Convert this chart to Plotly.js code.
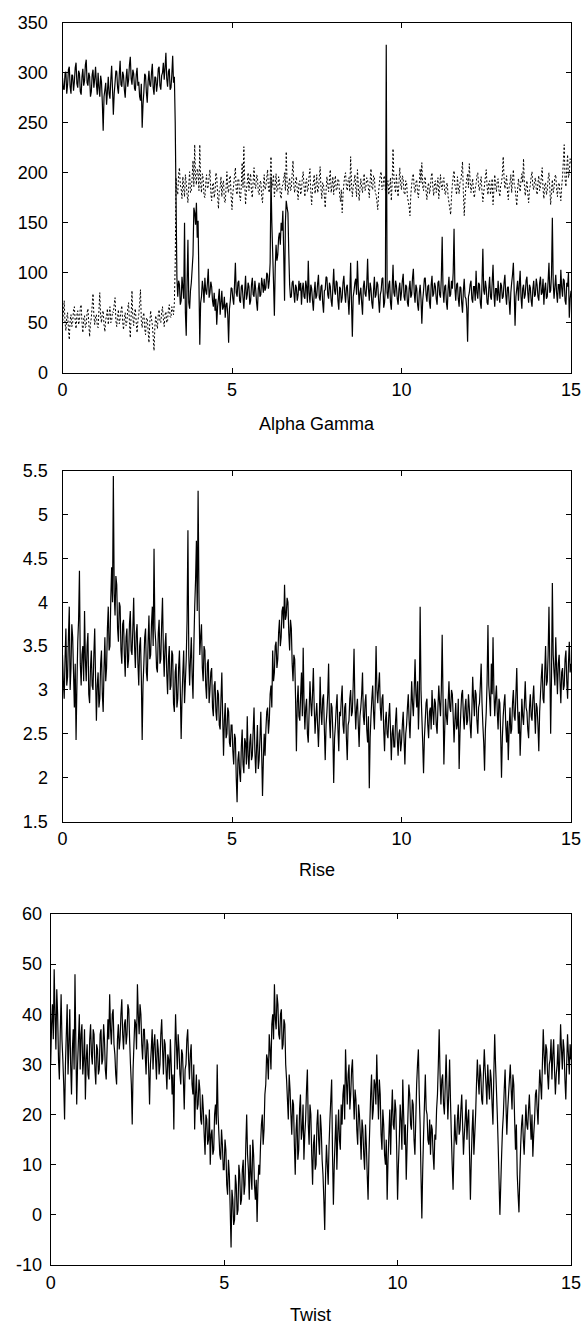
<!DOCTYPE html>
<html>
<head>
<meta charset="utf-8">
<script src="https://cdn.plot.ly/plotly-3.0.1.min.js"></script>
<style>html,body{margin:0;padding:0;background:#fff;}#chart{width:584px;height:1327px;}</style>
</head>
<body>
<div id="chart"></div>
<script>
// time step of the sampled series (x axis runs 0..15)
const tStep = 0.025;

// Panel 1 — Alpha Gamma, solid series
const alphaGammaSolid = [
295,284,283,299,301,279,288,303,306,286,279,298,297,282,291,305,310,289,285,302,299,281,278,296,304,287,292,308,313,290,287,300,296,276,281,298,303,285,294,306,
289,278,300,285,276,297,291,270,242,276,283,290,268,281,296,279,274,293,307,284,258,279,290,302,301,285,279,298,312,288,286,301,297,283,275,294,304,286,293,308,
316,294,288,303,299,284,282,298,305,287,291,276,272,289,245,268,281,299,297,280,270,291,302,288,286,300,309,285,278,296,295,281,289,304,306,287,283,297,300,310,
293,305,320,294,286,301,304,283,285,298,317,290,296,250,170,95,76,92,88,68,72,96,85,74,150,60,37,90,133,70,64,82,90,104,118,165,160,148,170,135,
152,90,28,70,76,92,84,70,95,82,78,90,104,75,80,91,86,72,66,80,62,74,48,66,74,84,58,70,82,63,66,76,55,68,70,58,30,64,72,85,
84,74,68,88,110,80,76,90,92,72,70,86,88,75,64,82,97,73,78,90,86,68,72,88,95,78,76,92,83,70,62,84,90,76,78,95,88,80,94,82,
85,100,98,84,92,110,196,150,120,90,57,105,128,112,118,135,140,128,150,142,162,120,72,150,172,165,160,120,88,75,76,90,92,80,70,88,85,72,78,92,
82,90,68,84,90,76,74,92,86,70,112,80,70,88,84,72,62,80,91,74,77,89,98,75,72,86,88,70,60,82,83,96,95,78,74,90,86,72,66,85,
104,82,78,92,90,72,63,86,84,70,75,90,97,80,70,85,88,74,58,80,110,70,36,76,82,90,94,78,112,86,68,80,85,70,58,86,92,79,76,88,
114,84,72,90,84,70,64,82,96,75,78,91,88,72,60,78,82,94,95,65,70,86,328,80,74,88,92,70,63,85,108,80,76,92,87,74,68,84,90,72,
80,92,99,76,72,88,86,70,66,84,92,75,78,95,104,80,70,88,84,68,62,80,88,74,49,72,82,94,95,78,71,86,88,70,64,88,97,76,79,90,
86,74,68,90,92,78,75,95,136,82,70,86,88,70,63,84,96,76,78,92,84,100,144,85,72,88,90,74,66,86,85,70,60,82,94,76,74,64,31,76,
80,88,92,74,70,86,86,72,102,80,74,90,88,70,64,90,124,82,78,92,85,70,68,84,96,76,73,90,108,80,66,84,84,72,92,78,70,90,87,74,
76,90,98,78,68,85,86,72,58,80,90,98,110,80,47,76,84,92,72,88,102,76,64,84,88,74,78,92,96,80,70,88,85,72,66,84,92,76,78,94,
88,76,72,90,96,78,80,94,68,84,90,74,76,92,110,80,82,98,155,90,74,86,98,80,70,88,88,74,103,85,76,94,92,72,68,90,86,100,55,74,
82
];

// Panel 1 — Alpha Gamma, dotted series
const alphaGammaDotted = [
48,60,72,50,42,55,60,44,33,52,58,46,50,63,66,52,44,58,62,48,52,65,68,50,40,54,57,45,47,60,64,50,36,49,55,67,79,58,48,56,
58,47,45,62,80,56,50,60,62,48,41,53,57,64,48,58,66,50,52,61,60,68,75,52,46,57,63,49,54,62,67,51,43,55,60,47,51,64,70,50,
35,58,82,55,47,61,64,50,40,52,58,70,83,52,45,56,60,44,38,54,55,42,30,50,62,54,48,36,22,46,57,50,44,58,63,52,50,60,66,54,
46,58,61,50,52,64,68,56,55,66,63,58,70,110,195,182,178,199,205,188,184,174,196,185,176,198,190,178,170,188,201,180,182,196,212,186,228,195,188,204,
200,182,228,190,180,199,194,177,175,190,198,184,186,196,203,180,172,188,190,175,181,200,196,178,164,182,185,196,176,188,192,172,170,185,201,183,180,195,197,176,
163,180,188,197,205,182,178,193,194,176,172,188,210,185,226,190,168,183,190,200,182,194,199,180,175,192,205,187,184,198,196,181,178,190,192,176,170,186,198,183,
186,195,203,184,180,194,216,185,190,198,176,187,199,181,183,196,192,178,174,186,188,194,200,182,221,190,178,188,195,182,184,199,212,186,180,192,196,182,173,190,
192,178,182,195,201,186,176,190,194,181,185,197,204,180,168,185,190,198,179,187,198,180,183,195,206,184,174,190,188,176,165,182,196,188,181,194,203,180,187,196,
178,190,197,182,184,194,192,178,171,183,160,178,189,197,200,186,182,192,195,181,216,190,176,186,190,198,185,176,203,188,172,184,194,185,180,193,199,182,186,195,
193,184,175,192,204,186,183,197,196,180,178,171,163,181,190,198,201,183,184,195,197,182,180,190,192,178,185,195,172,190,224,196,186,180,198,184,176,190,205,188,
183,197,194,180,178,192,190,176,171,166,157,178,188,196,199,185,180,190,193,179,175,188,204,190,210,186,182,194,196,181,173,186,190,179,184,196,200,185,177,190,
192,180,186,195,174,185,198,187,183,192,195,180,178,188,190,176,170,164,158,176,188,196,202,188,184,178,196,185,179,190,192,200,211,180,157,175,186,194,199,185,
209,192,180,188,194,180,175,184,189,197,200,186,182,190,196,181,171,180,188,196,203,186,178,190,192,178,185,194,168,182,198,188,181,192,194,182,176,187,190,198,
216,195,184,190,197,182,173,186,190,198,180,192,203,188,185,176,167,183,194,186,181,192,199,190,214,188,177,185,192,180,170,182,188,196,201,186,183,192,195,184,
178,190,197,182,186,196,205,184,174,188,190,178,182,194,200,184,168,182,193,180,185,196,198,184,176,188,190,180,172,186,196,212,228,194,186,205,218,195,200,214,
210
];

// Panel 2 — Rise
const riseValues = [
3.40,3.10,2.90,3.35,3.70,3.05,3.15,3.60,3.95,3.00,3.25,3.75,3.60,3.20,2.80,3.30,2.43,3.05,3.55,3.80,4.36,3.30,3.05,3.40,3.50,3.10,3.90,3.35,3.10,3.50,3.65,2.95,2.85,3.25,3.45,3.05,3.00,3.40,3.70,3.15,
2.65,3.05,3.20,2.80,2.90,3.30,3.45,2.95,2.75,3.25,3.60,3.10,3.25,3.70,3.95,3.45,3.50,4.05,4.40,4.00,5.44,4.10,3.85,4.30,4.20,3.70,3.55,4.00,3.95,3.45,3.30,3.75,3.80,3.40,3.15,3.60,3.70,3.25,3.35,3.75,
3.90,3.45,3.40,3.70,4.05,3.50,3.25,3.65,3.75,3.30,3.05,3.50,3.60,3.15,2.43,3.05,3.30,3.60,3.70,3.20,3.10,3.55,3.85,3.35,3.40,3.75,3.95,3.50,4.61,3.70,3.55,3.25,3.20,3.65,3.80,3.30,3.35,3.75,4.05,3.45,
3.15,3.50,3.65,3.20,2.95,3.35,3.50,3.00,3.05,3.45,3.40,2.85,2.75,3.20,3.30,2.80,2.90,3.25,3.45,3.00,2.44,2.90,3.20,3.45,2.85,3.10,3.35,3.80,4.82,3.40,3.05,3.35,3.60,3.15,2.90,3.50,3.95,4.25,4.70,3.90,
5.27,4.10,3.40,3.60,3.75,3.25,3.10,3.50,3.45,3.05,2.90,3.30,3.35,2.85,3.00,3.20,3.25,2.80,2.70,3.05,3.10,2.75,2.65,3.00,2.95,2.60,2.55,2.90,3.20,2.70,2.25,2.65,2.85,2.45,2.50,2.80,2.75,2.40,2.35,2.60,
2.60,2.30,2.15,2.50,2.45,2.00,1.72,2.20,2.30,2.05,1.95,2.35,2.55,2.15,2.05,2.45,2.40,2.15,2.70,2.25,2.10,2.40,2.50,2.20,2.25,2.55,2.80,2.30,2.05,2.35,2.60,2.10,2.20,2.45,2.75,2.30,1.79,2.20,2.50,2.25,
2.55,2.75,2.80,2.50,2.65,2.95,3.05,2.80,3.45,3.10,3.20,3.50,3.55,3.25,3.35,3.65,3.80,3.50,3.60,3.90,3.95,3.70,4.20,3.80,3.85,4.05,4.00,3.65,3.45,3.80,3.70,3.30,3.10,3.40,3.35,2.90,2.30,2.85,3.05,2.70,
2.65,2.95,3.20,2.70,3.48,2.85,2.55,2.80,2.90,2.50,2.40,2.75,3.10,2.85,2.70,2.95,3.25,2.80,2.50,2.70,2.85,2.60,2.35,2.65,3.15,2.75,2.60,2.90,2.95,2.55,2.20,2.60,2.75,2.95,3.30,2.65,2.45,2.85,2.80,2.50,
1.94,2.45,2.60,2.80,2.95,2.55,2.30,2.75,2.70,2.90,3.05,2.60,2.50,2.80,2.85,2.45,2.20,2.60,2.65,2.90,3.00,2.70,2.75,3.05,3.47,2.85,2.55,2.80,2.90,2.60,2.35,2.70,2.80,2.95,3.20,2.70,2.60,2.85,2.95,2.55,
2.40,2.70,1.88,2.45,2.70,2.90,3.05,2.75,2.55,2.95,3.50,3.00,2.85,3.05,3.20,2.80,2.65,2.90,2.95,2.55,2.30,2.65,2.75,2.50,2.45,2.70,2.85,2.55,2.20,2.50,2.60,2.35,2.35,2.65,2.80,2.45,2.25,2.50,2.55,2.30,
2.40,2.60,2.75,2.45,2.15,2.50,2.60,2.80,2.95,2.65,2.45,2.75,3.10,2.85,2.70,3.00,3.35,2.95,2.80,3.10,2.55,2.90,3.95,3.00,2.70,2.40,2.05,2.45,2.65,2.85,2.90,2.60,2.45,2.75,2.80,2.55,3.00,2.75,2.60,2.90,
2.85,2.60,2.50,2.80,3.05,2.85,2.70,3.00,3.63,2.90,2.15,2.55,2.90,2.70,2.60,2.85,3.10,2.80,2.75,3.00,2.95,2.70,2.40,2.65,2.85,2.55,2.60,2.90,2.10,2.50,2.75,2.95,3.00,2.70,2.55,2.80,2.90,2.60,2.65,2.95,
2.80,2.60,2.45,2.75,3.15,2.90,2.70,3.00,2.95,2.65,2.50,2.80,2.85,3.05,3.30,2.85,2.60,2.40,2.08,2.55,2.75,3.10,3.74,3.05,2.90,2.70,3.30,2.95,3.60,3.00,2.70,2.90,3.05,2.75,2.55,2.90,2.85,2.50,2.00,2.45,
2.70,2.85,2.95,2.60,2.40,2.65,2.20,2.55,2.80,2.50,2.55,2.85,3.00,2.70,2.65,2.95,3.25,2.80,2.50,2.75,2.25,2.55,2.90,2.70,2.60,2.85,3.10,2.80,2.75,2.55,2.45,2.80,2.95,2.70,2.65,2.90,3.05,2.75,2.50,2.85,
2.80,2.60,2.30,2.75,2.95,3.15,3.30,2.90,2.85,3.20,3.50,3.05,3.10,3.40,3.95,3.30,2.50,3.15,4.22,3.40,3.20,3.05,3.60,3.25,2.95,3.30,3.40,3.10,2.85,3.20,3.25,3.00,3.05,3.35,3.45,3.10,2.90,3.30,3.55,3.20,
3.30
];

// Panel 3 — Twist
const twistValues = [
30,38,42,35,49,40,33,45,40,31,27,36,44,35,31,26,19,30,36,42,28,34,41,30,24,33,37,29,48,34,22,30,35,40,29,36,38,28,31,37,
23,31,34,28,27,35,38,32,30,37,36,29,26,34,33,28,29,36,37,30,31,38,35,29,27,33,39,35,44,37,34,40,41,34,32,28,26,35,38,33,
35,40,43,36,33,38,39,34,36,42,41,35,30,26,18,29,34,39,38,33,46,40,36,42,40,34,31,37,37,32,28,35,34,29,22,30,33,37,29,34,
36,31,27,35,33,28,30,36,39,33,28,35,34,29,25,32,31,27,35,30,24,28,17,31,40,34,29,36,33,28,26,33,32,27,21,29,30,35,37,31,
27,32,34,26,24,30,17,24,28,21,22,27,25,19,18,24,21,16,12,20,19,14,15,21,10,16,17,12,13,20,22,18,30,20,16,12,11,17,14,9,
9,15,13,6,4,11,8,1,-6.5,5,3,-2,-1,8,6,0,1,10,8,2,3,9,11,4,6,14,20,12,9,3,14,8,5,15,12,6,3,7,-1.4,6,
10,8,14,18,20,14,17,24,26,32,31,27,36,33,29,38,40,35,46,39,37,44,42,36,35,40,41,33,34,39,38,30,27,23,19,28,25,20,16,23,
22,14,8,17,20,11,13,21,24,15,17,22,11,16,19,25,29,18,14,22,20,12,6,14,16,9,10,18,21,15,12,20,17,11,8,3,-3,8,14,10,
6,14,19,23,27,12,2,10,15,20,9,16,21,15,13,22,18,24,26,19,33,27,22,28,30,21,24,29,31,24,19,25,23,17,14,22,20,16,11,19,
17,12,9,18,14,8,3,12,18,24,28,19,21,27,26,22,32,25,19,27,24,16,13,21,18,12,10,15,3,11,16,21,12,20,25,18,17,23,21,13,
3,10,15,22,19,13,27,20,14,18,7,14,20,26,24,18,17,23,22,15,12,19,26,30,33,24,18,8,-0.7,9,16,22,28,21,20,15,14,19,12,18,
17,12,9,16,15,21,24,30,37,28,22,27,28,22,20,26,32,25,19,24,31,23,16,10,5,13,20,15,14,19,22,16,17,21,24,18,12,16,19,23,
15,19,21,12,3,11,17,21,12,16,20,26,31,27,24,30,28,23,22,28,33,29,26,22,30,26,23,29,27,22,18,28,36,30,25,20,14,7,0,6,
12,17,20,25,29,22,16,21,24,27,30,25,21,28,26,19,13,18,8,4,0.5,8,14,18,20,15,12,17,22,18,17,21,24,19,15,20,11.6,16,19,24,
25,21,18,24,29,26,23,30,37,32,28,34,33,28,25,30,31,35,27,32,35,29,24,28,30,34,26,31,38,33,29,35,33,27,23,30,36,32,28,34,
31
];

// Axis tick values / labels
const xTicks = [0, 5, 10, 15];
const agTicks = [0, 50, 100, 150, 200, 250, 300, 350];
const riseTicks = [1.5, 2, 2.5, 3, 3.5, 4, 4.5, 5, 5.5];
const twistTicks = [-10, 0, 10, 20, 30, 40, 50, 60];
const twistTickText = ['-10', '0', '10', '20', '30', '40', '50', '60'];
const panelTitles = ['Alpha Gamma', 'Rise', 'Twist'];

const times = alphaGammaSolid.map((_, i) => +(i * tStep).toFixed(4));

const W = 584, H = 1327;
const FONT = 'Liberation Sans, Arial, Helvetica, sans-serif';
const fy = px => 1 - px / H;

const lineSolid = {color: '#000', width: 1.2, simplify: false};

const traces = [
  {x: times, y: alphaGammaSolid, xaxis: 'x', yaxis: 'y', type: 'scatter', mode: 'lines', line: lineSolid, hoverinfo: 'skip'},
  {x: times, y: alphaGammaDotted, xaxis: 'x', yaxis: 'y', type: 'scatter', mode: 'lines', line: {color: '#000', width: 1, dash: '2px,2px', simplify: false}, hoverinfo: 'skip'},
  {x: times, y: riseValues, xaxis: 'x2', yaxis: 'y2', type: 'scatter', mode: 'lines', line: lineSolid, hoverinfo: 'skip'},
  {x: times, y: twistValues, xaxis: 'x3', yaxis: 'y3', type: 'scatter', mode: 'lines', line: lineSolid, hoverinfo: 'skip'}
];

const tickFont = {family: FONT, size: 18, color: '#000'};
function xAx(domain, anchor) {
  return {domain: domain, anchor: anchor, range: [0, 15], tickvals: xTicks, ticks: 'inside', ticklen: 5,
    tickcolor: '#000', showline: true, linecolor: '#000', linewidth: 1, mirror: 'ticks', showgrid: false,
    zeroline: false, tickfont: tickFont, ticklabelstandoff: 1, fixedrange: true};
}
function yAx(domain, anchor, range, tv, tt, standoff) {
  const a = {domain: domain, anchor: anchor, range: range, tickvals: tv, ticks: 'inside', ticklen: 5,
    tickcolor: '#000', showline: true, linecolor: '#000', linewidth: 1, mirror: 'ticks', showgrid: false,
    zeroline: false, tickfont: tickFont, ticklabelstandoff: standoff, fixedrange: true};
  if (tt) a.ticktext = tt;
  return a;
}

const dom12 = [62.5 / W, 571 / W];
const dom3 = [50.7 / W, 571 / W];

const titleFont = {family: FONT, size: 18, color: '#000'};
const layout = {
  width: W, height: H,
  margin: {l: 0, r: 0, t: 0, b: 0},
  paper_bgcolor: '#fff', plot_bgcolor: '#fff',
  showlegend: false,
  font: {family: FONT, color: '#000'},
  xaxis: xAx(dom12, 'y'),
  yaxis: yAx([fy(372.7), fy(22.7)], 'x', [0, 350], agTicks, null, 10),
  xaxis2: xAx(dom12, 'y2'),
  yaxis2: yAx([fy(821.5), fy(470.7)], 'x2', [1.5, 5.5], riseTicks, null, 10),
  xaxis3: xAx(dom3, 'y3'),
  yaxis3: yAx([fy(1265), fy(914)], 'x3', [-10, 60], twistTicks, twistTickText, 4),
  annotations: [
    {text: panelTitles[0], xref: 'paper', yref: 'paper', x: (dom12[0] + dom12[1]) / 2, y: fy(424), xanchor: 'center', yanchor: 'middle', showarrow: false, font: titleFont},
    {text: panelTitles[1], xref: 'paper', yref: 'paper', x: (dom12[0] + dom12[1]) / 2, y: fy(870), xanchor: 'center', yanchor: 'middle', showarrow: false, font: titleFont},
    {text: panelTitles[2], xref: 'paper', yref: 'paper', x: (dom3[0] + dom3[1]) / 2, y: fy(1315), xanchor: 'center', yanchor: 'middle', showarrow: false, font: titleFont}
  ]
};

Plotly.newPlot('chart', traces, layout, {staticPlot: true, displayModeBar: false});
</script>
</body>
</html>
